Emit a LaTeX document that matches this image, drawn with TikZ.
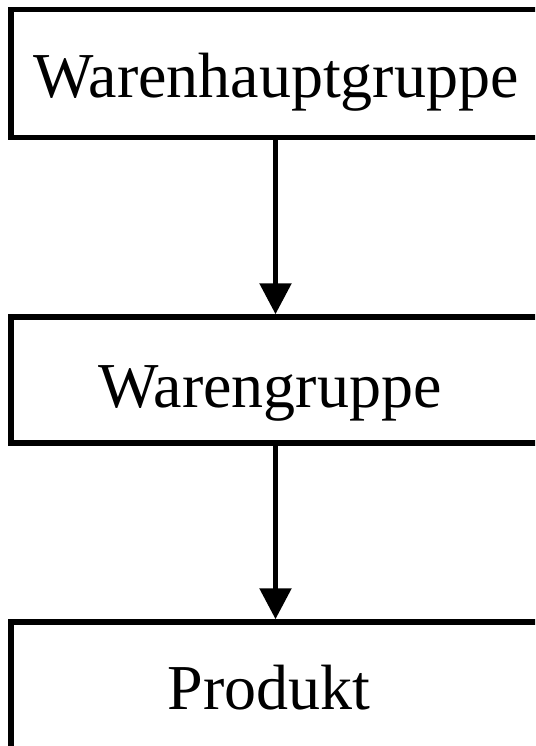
\documentclass[tikz,border=0pt]{standalone}
\usepackage{fontspec}
\setmainfont{Liberation Serif}
\usetikzlibrary{arrows.meta}
\begin{document}
\begin{tikzpicture}[x=1pt,y=-1pt,
  levelbox/.style={draw=black, line width=5.5pt, rectangle, minimum width=529pt, inner sep=0pt},
  leveltext/.style={anchor=base, inner sep=0pt, font=\fontsize{64}{70}\selectfont},
  flow/.style={line width=5.5pt, -{Triangle[length=31pt,width=31pt]}}]
  \useasboundingbox (0,0) rectangle (535,746);
  \clip (0,0) rectangle (535,746);
  % hierarchy levels
  \node[levelbox, minimum height=127.8pt] (top) at (275.5,73.6) {};
  \node[levelbox, minimum height=126pt] (mid) at (275.5,380) {};
  \node[levelbox, minimum height=140pt] (low) at (275.5,692) {};
  % labels
  \node[leveltext] (topt) at (276,98) {Warenhauptgruppe};
  \node[leveltext] (midt) at (270,407) {Warengruppe};
  \node[leveltext] (lowt) at (269,709) {Produkt};
  % links between levels
  \draw[flow] (top.south) -- (mid.north);
  \draw[flow] (mid.south) -- (low.north);
\end{tikzpicture}
\end{document}
